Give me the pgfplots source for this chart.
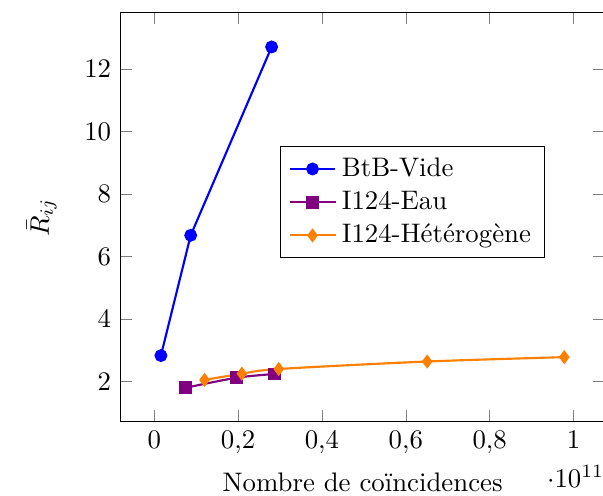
\documentclass[border=0pt]{standalone}
\usepackage[utf8]{inputenc}
\usepackage{pgfplots}
\pgfplotsset{compat=1.18}

\begin{document}
\begin{tikzpicture}
\begin{axis}[
    scale only axis,
    width=180.6pt, height=152.6pt,
    xlabel={Nombre de coïncidences},
    ylabel={$\bar{R}_{ij}$},
    xlabel style={at={(axis description cs:0.5,0)}, anchor=base, yshift=-26pt},
    ylabel style={at={(axis description cs:-0.163,0.5)}, anchor=center},
    every x tick scale label/.style={at={(axis description cs:1,0)}, anchor=base east, inner sep=0pt, yshift=-24.5pt},
    /pgf/number format/use comma,
    legend style={at={(0.603,0.537)}, anchor=center, cells={anchor=west}},
    ]
    \addplot+[blue, thick, mark=*, mark options={fill=blue}]
    coordinates {(0.016e11,2.83) (0.087e11,6.68) (0.280e11,12.71)};
    \addlegendentry{BtB-Vide}
    \addplot+[violet, thick, smooth, mark=square*, mark options={fill=violet}]
    coordinates {(0.075e11,1.80) (0.196e11,2.12) (0.286e11,2.24)};
    \addlegendentry{I124-Eau}
    \addplot+[orange, thick, smooth, mark=diamond*, mark options={fill=orange}]
    coordinates {(0.120e11,2.05) (0.209e11,2.25) (0.297e11,2.40) (0.651e11,2.64) (0.978e11,2.78)};
    \addlegendentry{I124-Hétérogène}
\end{axis}
\pgfresetboundingbox
\path[use as bounding box] ([shift={(-45pt,-27.6pt)}]current axis.south west) rectangle ++(225pt,185pt);
\end{tikzpicture}
\end{document}
